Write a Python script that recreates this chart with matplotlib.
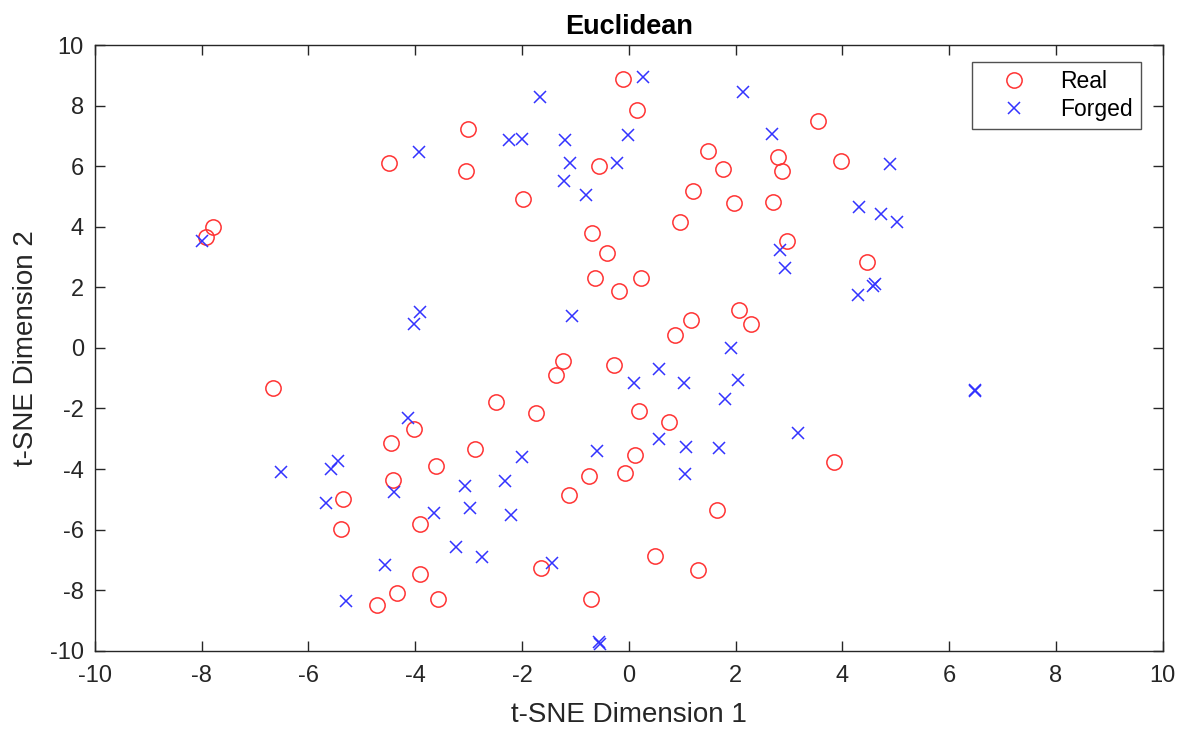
import matplotlib
matplotlib.use("Agg")
import matplotlib.pyplot as plt

plt.rcParams['font.family'] = ['Liberation Sans', 'DejaVu Sans']
plt.rcParams['axes.unicode_minus'] = False

# t-SNE embedding, real signatures
real_x = [-3.02, -4.50, -3.05, -7.78, -7.92, -0.11, 0.15, 3.55, 1.48, 2.80,
          3.98, -0.56, 1.77, 2.87, -1.98, 1.20, 1.98, 2.71, 0.95, -0.68,
          -0.41, 2.97, 4.46, -0.64, 0.23, -0.18, 2.07, 2.29, 1.16, 0.86,
          -6.66, -4.03, -4.46, -2.88, -2.48, -3.61, -4.41, -5.35, -3.92, -5.39,
          -3.92, -4.34, -3.57, -4.71, -1.23, -1.37, -0.27, -1.73, 0.20, 0.75,
          0.11, 3.84, -0.75, -0.08, -1.12, 1.66, 0.50, -1.64, 1.29, -0.70]
real_y = [7.24, 6.12, 5.83, 4.00, 3.65, 8.88, 7.87, 7.48, 6.51, 6.30,
          6.16, 6.00, 5.92, 5.83, 4.92, 5.18, 4.77, 4.82, 4.16, 3.80,
          3.12, 3.53, 2.83, 2.32, 2.32, 1.88, 1.24, 0.80, 0.91, 0.43,
          -1.34, -2.69, -3.14, -3.34, -1.78, -3.90, -4.37, -4.98, -5.81, -5.98,
          -7.46, -8.09, -8.30, -8.49, -0.42, -0.90, -0.57, -2.16, -2.08, -2.45,
          -3.54, -3.77, -4.22, -4.13, -4.86, -5.34, -6.87, -7.26, -7.34, -8.30]

# t-SNE embedding, forged signatures
forged_x = [-3.93, -7.99, -3.92, -4.03, 0.26, -1.66, 2.14, -2.25, -2.00, -1.20,
            -0.02, 2.68, -1.11, -0.22, -1.22, -0.80, 4.32, 4.72, 2.83, 2.93,
            4.30, 4.58, 4.61, -1.06, 1.91, 4.89, 5.02,
            -4.14, -6.52, -5.57, -5.44, -4.39, -3.06, -2.97, -5.68, -3.65, -3.23,
            -2.75, -4.57, -5.29, 0.57, 0.09, 1.03, 2.05, 1.80, 3.17, 0.57,
            1.08, 1.69, -0.60, -2.00, 1.05, -2.32, -2.20, -1.43, -0.56, -0.54,
            6.48, 6.49]
forged_y = [6.47, 3.53, 1.20, 0.80, 8.93, 8.28, 8.44, 6.88, 6.91, 6.85,
            7.04, 7.07, 6.10, 6.10, 5.51, 5.04, 4.64, 4.41, 3.23, 2.63,
            1.73, 2.05, 2.10, 1.04, -0.02, 6.08, 4.16,
            -2.33, -4.09, -4.00, -3.73, -4.77, -4.56, -5.30, -5.13, -5.45, -6.58,
            -6.91, -7.18, -8.35, -0.69, -1.17, -1.17, -1.07, -1.70, -2.82, -3.02,
            -3.26, -3.29, -3.42, -3.61, -4.15, -4.38, -5.51, -7.10, -9.72, -9.78,
            -1.39, -1.41]

x_ticks = list(range(-10, 11, 2))
y_ticks = list(range(-10, 11, 2))

axis_color = (0.15, 0.15, 0.15)

fig = plt.figure(figsize=(11.9, 7.31), dpi=100)
ax = fig.add_axes([0.0798, 0.1098, 0.8972, 0.8286])

ax.plot(real_x, real_y, linestyle='none', marker='o', markersize=11,
        markerfacecolor='none', markeredgecolor=(1, 0.2, 0.2),
        markeredgewidth=1.1, label='Real')
ax.plot(forged_x, forged_y, linestyle='none', marker='x', markersize=8,
        color=(0.2, 0.2, 1), markeredgewidth=1.1, label='Forged')

ax.set_xlim(-10, 10)
ax.set_ylim(-10, 10)
ax.set_xticks(x_ticks)
ax.set_yticks(y_ticks)
ax.tick_params(direction='in', top=True, right=True, length=7, width=1,
               colors=axis_color, labelsize=17)
ax.tick_params(axis='x', pad=10)
ax.tick_params(axis='y', pad=8)
for side in ax.spines.values():
    side.set_color(axis_color)
    side.set_linewidth(1)

ax.set_xlabel('t-SNE Dimension 1', fontsize=20, color=axis_color, labelpad=11)
ax.set_ylabel('t-SNE Dimension 2', fontsize=20, color=axis_color, labelpad=8)
ax.set_title('Euclidean', fontsize=19.5, fontweight='bold', color='black', pad=8)

leg = ax.legend(loc='upper right', bbox_to_anchor=(0.9797, 0.972),
                fontsize=16.5, frameon=True, fancybox=False,
                edgecolor=axis_color, borderpad=0.35, handletextpad=0.5,
                handlelength=3.0, labelspacing=0.22, borderaxespad=0)
leg.get_frame().set_linewidth(1)

fig.savefig('out.png', dpi=100, facecolor='white')
